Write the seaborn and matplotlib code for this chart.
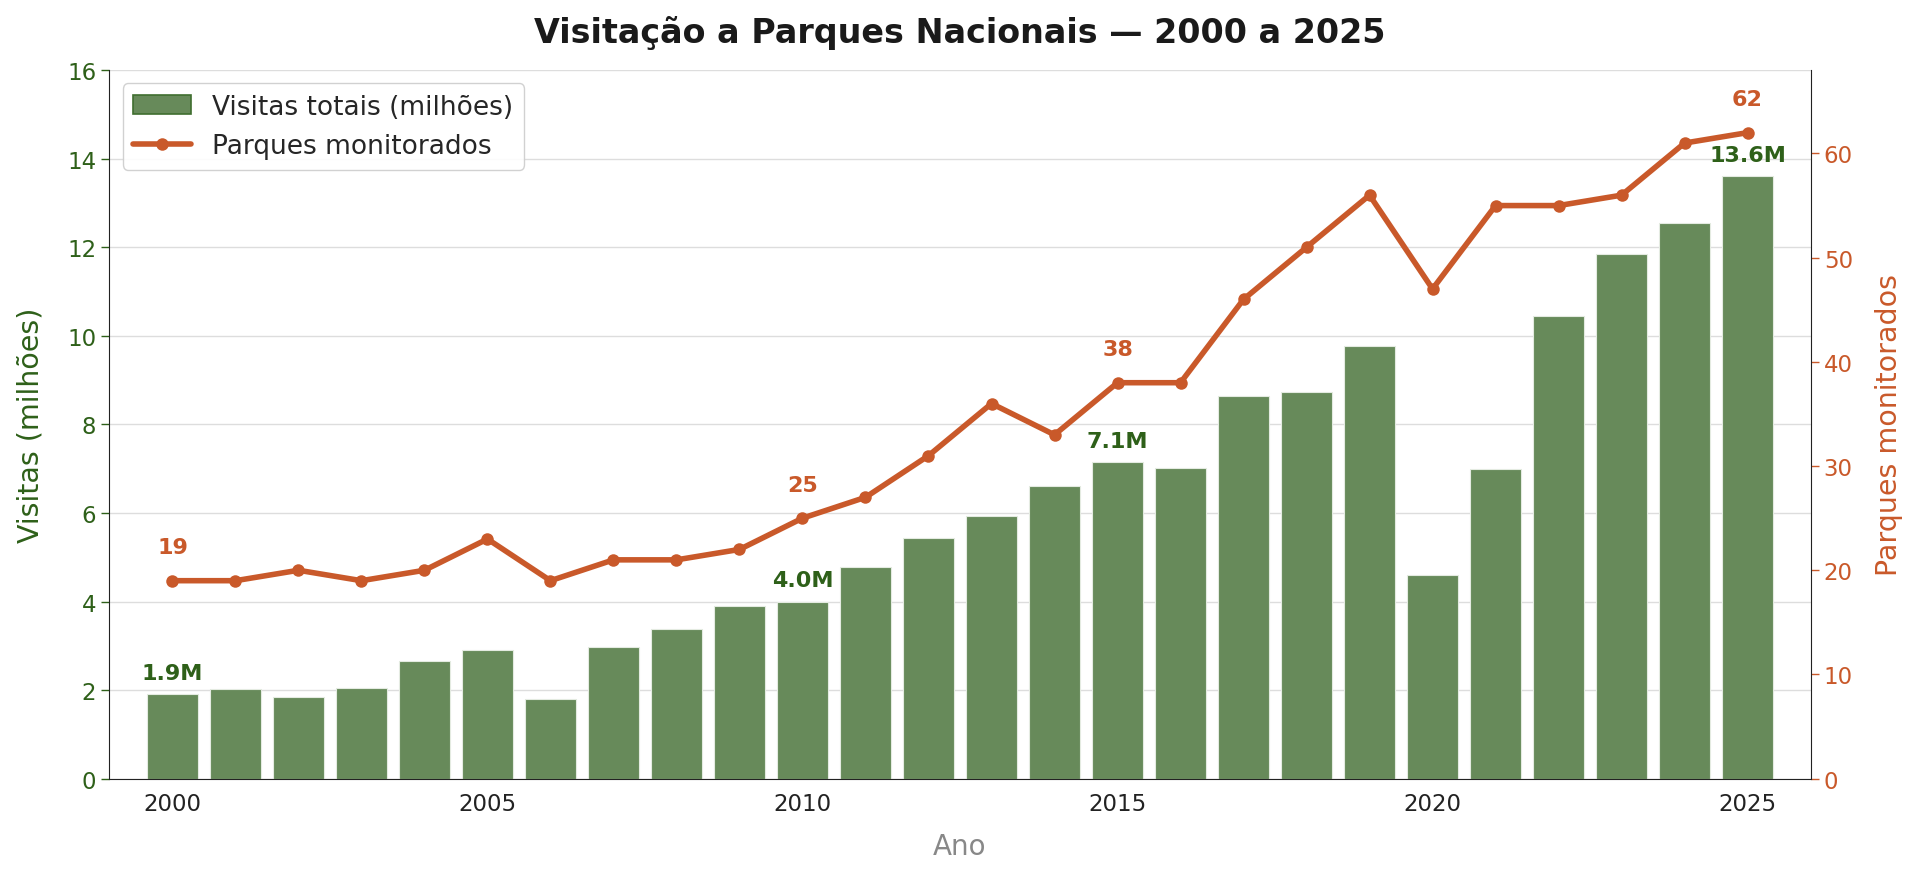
import matplotlib
matplotlib.use("Agg")
import matplotlib.pyplot as plt
import matplotlib.patches as mpatches
import seaborn as sns
import numpy as np
import pandas as pd

years = list(range(2000, 2026))
visits = [1.91, 2.02, 1.85, 2.05, 2.65, 2.9, 1.8, 2.98, 3.37, 3.9, 4.0, 4.78, 5.44, 5.94,
          6.6, 7.14, 7.02, 8.65, 8.73, 9.78, 4.59, 6.99, 10.44, 11.85, 12.54, 13.6]
parks = [19, 19, 20, 19, 20, 23, 19, 21, 21, 22, 25, 27, 31, 36, 33, 38, 38, 46, 51, 56,
         47, 55, 55, 56, 61, 62]
label_years = [2000, 2010, 2015, 2025]

GREEN = "#2e6019"
BAR = "#678a5a"
ORANGE = "#c9592a"

df = pd.DataFrame({"Ano": years, "Visitas": visits, "Parques": parks})

sns.set_style("white")
plt.rcParams["font.family"] = ["DejaVu Sans"]

fig = plt.figure(figsize=(19.2, 8.78), dpi=100)
ax = fig.add_axes([0.057, 0.112, 0.886, 0.807])

sns.barplot(data=df, x="Ano", y="Visitas", native_scale=True, color=BAR, saturation=1,
            width=0.8, ax=ax, edgecolor="#e4ebe1", linewidth=0.8)
ax.set_ylim(0, 16)
ax.set_xlim(1999, 2026)
ax.set_yticks(range(0, 17, 2))
ax.set_xticks([2000, 2005, 2010, 2015, 2020, 2025])
ax.yaxis.grid(True, color="#dddddd", linewidth=1)
ax.set_axisbelow(True)
ax.tick_params(axis="y", colors=GREEN, labelsize=16.5, length=6, width=1)
ax.tick_params(axis="x", colors="#222222", labelsize=16.5, length=6, width=1)
for lab in ax.get_yticklabels():
    lab.set_color(GREEN)
ax.set_ylabel("Visitas (milhões)", color=GREEN, fontsize=20.5, labelpad=16)
ax.set_xlabel("Ano", color="#888888", fontsize=20, labelpad=12)
ax.spines["top"].set_visible(False)
ax.spines["right"].set_visible(False)
ax.spines["left"].set_color("#222222")
ax.spines["bottom"].set_color("#222222")

ax2 = ax.twinx()
sns.lineplot(data=df, x="Ano", y="Parques", color=ORANGE, marker="o", markersize=9,
             markeredgewidth=0, linewidth=4, ax=ax2, label="Parques monitorados")
ax2.set_ylim(0, 68)
ax2.set_yticks(range(0, 61, 10))
ax2.tick_params(axis="y", colors=ORANGE, labelsize=16.5, length=6, width=1)
for lab in ax2.get_yticklabels():
    lab.set_color(ORANGE)
ax2.set_ylabel("Parques monitorados", color=ORANGE, fontsize=20.5, labelpad=16)
ax2.spines["top"].set_visible(False)
ax2.spines["left"].set_visible(False)
ax2.spines["right"].set_color("#222222")
ax2.spines["bottom"].set_visible(False)
ax2.grid(False)

for y in label_years:
    i = years.index(y)
    ax.annotate(f"{visits[i]:.1f}M", (y, visits[i]), xytext=(0, 8), textcoords="offset points",
                ha="center", va="bottom", color=GREEN, fontsize=16, fontweight="bold")
    ax2.annotate(f"{parks[i]}", (y, parks[i]), xytext=(0, 17), textcoords="offset points",
                 ha="center", va="bottom", color=ORANGE, fontsize=16, fontweight="bold")

h2, l2 = ax2.get_legend_handles_labels()
if ax2.get_legend():
    ax2.get_legend().remove()
bar_handle = mpatches.Patch(facecolor=BAR, edgecolor="#3f6e2f", linewidth=1.2,
                            label="Visitas totais (milhões)")
ax2.legend([bar_handle] + h2, ["Visitas totais (milhões)"] + l2, loc="upper left",
           fontsize=19, frameon=True, framealpha=0.9, edgecolor="#cccccc",
           bbox_to_anchor=(0.0, 1.0), handlelength=2.2)

fig.suptitle("Visitação a Parques Nacionais — 2000 a 2025", fontsize=24, fontweight="bold",
             color="#1a1a1a", y=0.982)

fig.savefig("out.png", dpi=100)
